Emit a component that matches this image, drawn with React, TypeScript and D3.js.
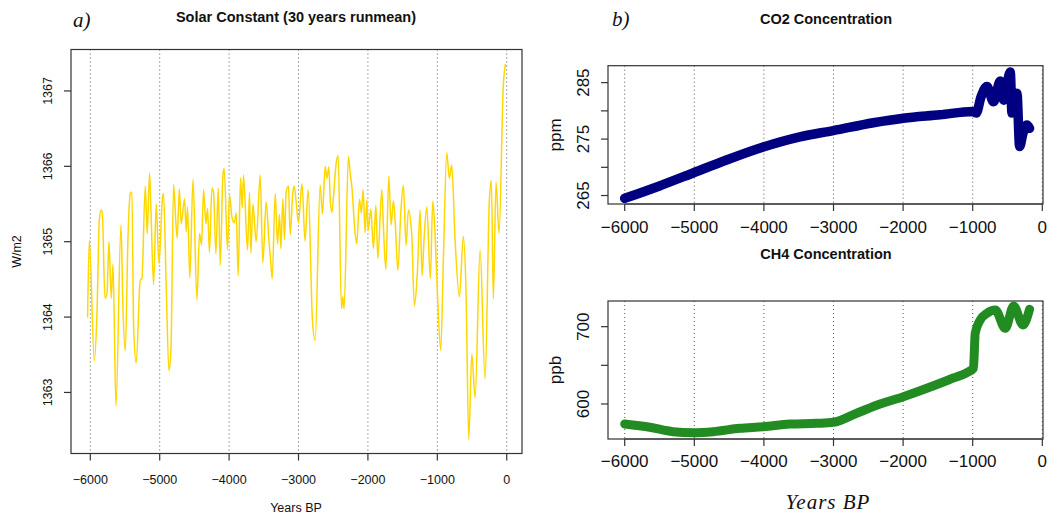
import React from 'react';
import * as d3 from 'd3';

// Solar constant, 30-year running mean (years BP, W/m2)
const solarYears = [
  -6039, -6014, -5942, -5904, -5870, -5846, -5827, -5789, -5760, -5731, -5698, -5673, -5630, -5558,
  -5530, -5496, -5457, -5424, -5400, -5376, -5338, -5280, -5256, -5208, -5180, -5146, -5126, -5088,
  -5050, -5011, -4959, -4945, -4906, -4867, -4838, -4800, -4766, -4747, -4718, -4690, -4642, -4618,
  -4599, -4566, -4520, -4464, -4426, -4397, -4368, -4334, -4311, -4283, -4248, -4225, -4190, -4157,
  -4128, -4089, -4071, -4023, -3994, -3960, -3927, -3898, -3869, -3836, -3811, -3793, -3735, -3706,
  -3686, -3657, -3610, -3552, -3514, -3466, -3427, -3404, -3379, -3336, -3303, -3274, -3254, -3225,
  -3202, -3178, -3145, -3120, -3082, -3063, -3034, -3001, -2950, -2906, -2861, -2799, -2760, -2688,
  -2655, -2616, -2592, -2563, -2544, -2520, -2497, -2458, -2429, -2381, -2362, -2343, -2281, -2256,
  -2232, -2184, -2160, -2122, -2094, -2069, -2040, -2016, -1997, -1958, -1921, -1886, -1857, -1800,
  -1777, -1742, -1699, -1666, -1633, -1608, -1569, -1526, -1489, -1450, -1417, -1369, -1331, -1287,
  -1248, -1220, -1191, -1152, -1100, -1066, -1033, -1000, -951, -913, -864, -827, -793, -744,
  -682, -625, -586, -547, -503, -456, -384, -312, -250, -221, -193, -154, -111, -49, -20,
];
const solarValues = [
  1364.0, 1365.02, 1363.42, 1364.05, 1365.28, 1365.42, 1365.38, 1364.25, 1364.31, 1365.0, 1364.25, 1364.7, 1362.82, 1365.22,
  1364.13, 1363.55, 1365.06, 1365.64, 1365.66, 1363.87, 1363.39, 1364.49, 1364.51, 1365.74, 1365.11, 1365.91, 1365.42, 1364.43,
  1365.5, 1364.71, 1365.59, 1365.64, 1364.4, 1363.29, 1363.56, 1365.76, 1365.24, 1365.05, 1365.7, 1365.24, 1365.57, 1365.13,
  1365.46, 1364.52, 1365.83, 1364.23, 1365.11, 1364.96, 1365.69, 1365.24, 1365.44, 1364.86, 1365.71, 1365.66, 1364.84, 1365.71,
  1364.69, 1365.88, 1365.97, 1364.9, 1365.62, 1365.33, 1365.25, 1365.38, 1364.55, 1365.85, 1365.45, 1365.88, 1364.89, 1365.65,
  1364.85, 1365.5, 1365.0, 1365.88, 1364.72, 1365.53, 1365.02, 1364.78, 1364.51, 1365.64, 1364.97, 1365.36, 1364.91, 1365.57,
  1365.03, 1365.66, 1365.74, 1365.09, 1365.65, 1365.74, 1365.53, 1365.25, 1365.77, 1365.01, 1365.69, 1363.95, 1363.69, 1365.75,
  1365.37, 1366.0, 1365.84, 1365.99, 1365.57, 1365.39, 1365.59, 1366.04, 1366.14, 1364.11, 1364.27, 1364.11, 1366.13, 1365.91,
  1365.73, 1365.11, 1364.97, 1365.56, 1365.38, 1365.69, 1365.12, 1365.55, 1365.15, 1365.43, 1364.91, 1365.48, 1364.78, 1365.69,
  1365.2, 1364.63, 1365.87, 1365.22, 1365.54, 1365.28, 1364.62, 1365.39, 1365.75, 1364.95, 1365.42, 1365.1, 1364.15, 1364.6,
  1365.42, 1364.55, 1365.04, 1365.46, 1364.51, 1365.54, 1365.11, 1364.35, 1363.56, 1364.75, 1366.18, 1365.84, 1366.02, 1365.02,
  1364.27, 1365.07, 1364.31, 1362.38, 1363.51, 1362.93, 1364.89, 1363.18, 1365.55, 1365.81, 1364.24, 1365.79, 1365.11, 1367.08, 1367.35,
];

// CO2 concentration (ppm)
const co2Years = [-6000, -5500, -5017, -4537, -4010, -3482, -3003, -2427, -1996, -1468, -1000, -950, -880, -796, -700, -604, -556, -460, -436, -364, -326, -278, -221, -183];
const co2Values = [264.5, 266.7, 269.0, 271.3, 273.6, 275.4, 276.5, 277.9, 278.7, 279.3, 279.9, 279.6, 282.5, 284.3, 281.6, 285.3, 281.9, 286.9, 279.6, 283.1, 273.7, 276.0, 277.5, 276.9];

// CH4 concentration (ppb)
const ch4Years = [-6000, -5640, -5305, -5017, -4729, -4345, -4010, -3626, -3242, -3003, -2667, -2331, -1996, -1659, -1324, -1084, -989, -964, -892, -796, -676, -532, -412, -278, -183];
const ch4Values = [574.1, 569.9, 564.2, 562.9, 564.2, 568.6, 570.6, 574.1, 575.0, 576.3, 588.0, 600.0, 609.4, 620.3, 632.0, 640.5, 646.2, 691.5, 708.7, 717.3, 721.6, 697.9, 726.8, 702.2, 722.5];

const yearTicks = [-6000, -5000, -4000, -3000, -2000, -1000, 0];
const solarTicks = [1363, 1364, 1365, 1366, 1367];
const co2Ticks = [265, 270, 275, 280, 285];
const co2Labels = [265, 275, 285];
const ch4Ticks = [600, 650, 700];
const ch4Labels = [600, 700];

const SANS = 'Liberation Sans, Arial, Helvetica, sans-serif';
const SERIF = 'Liberation Serif, DejaVu Serif, serif';
const fmt = (v: number) => (v < 0 ? '\u2212' + Math.abs(v) : String(v));

type PanelProps = {
  id: string;
  box: { x0: number; x1: number; y0: number; y1: number };
  x: d3.ScaleLinear<number, number>;
  y: d3.ScaleLinear<number, number>;
  xs: number[];
  ys: number[];
  yTicks: number[];
  yLabels: number[];
  color: string;
  width: number;
  font: number;
  ylab: string;
  ylabX: number;
  yTickX: number;
  xTickY: number;
  curve: d3.CurveFactory;
};

function Panel(p: PanelProps) {
  const { box, x, y } = p;
  const line = d3
    .line<number>()
    .x((_, i) => x(p.xs[i]))
    .y((d) => y(d))
    .curve(p.curve);
  return (
    <g>
      <clipPath id={p.id}>
        <rect x={box.x0} y={box.y0} width={box.x1 - box.x0} height={box.y1 - box.y0} />
      </clipPath>
      {yearTicks.map((t) => (
        <line key={'g' + t} x1={x(t)} x2={x(t)} y1={box.y0} y2={box.y1} stroke="#555" strokeWidth={1} strokeDasharray="1,3" />
      ))}
      <path
        d={line(p.ys) || ''}
        fill="none"
        stroke={p.color}
        strokeWidth={p.width}
        strokeLinejoin="round"
        strokeLinecap="round"
        clipPath={`url(#${p.id})`}
      />
      <rect x={box.x0} y={box.y0} width={box.x1 - box.x0} height={box.y1 - box.y0} fill="none" stroke="#333" strokeWidth={1.2} />
      {/* x axis */}
      <line x1={x(yearTicks[0])} x2={x(yearTicks[yearTicks.length - 1])} y1={box.y1} y2={box.y1} stroke="#333" />
      {yearTicks.map((t) => (
        <g key={'x' + t}>
          <line x1={x(t)} x2={x(t)} y1={box.y1} y2={box.y1 + 7} stroke="#333" strokeWidth={1.2} />
          <text x={x(t)} y={p.xTickY} textAnchor="middle" fontFamily={SANS} fontSize={p.font} fill="#111">
            {fmt(t)}
          </text>
        </g>
      ))}
      {/* y axis */}
      {p.yTicks.map((t) => (
        <line key={'y' + t} x1={box.x0 - 7} x2={box.x0} y1={y(t)} y2={y(t)} stroke="#333" strokeWidth={1.2} />
      ))}
      {p.yLabels.map((t) => (
        <text
          key={'yl' + t}
          transform={`translate(${p.yTickX},${y(t)}) rotate(-90)`}
          textAnchor="middle"
          fontFamily={SANS}
          fontSize={p.font}
          fill="#111"
        >
          {t}
        </text>
      ))}
      <text
        transform={`translate(${p.ylabX},${(box.y0 + box.y1) / 2}) rotate(-90)`}
        textAnchor="middle"
        fontFamily={SANS}
        fontSize={p.font}
        fill="#111"
      >
        {p.ylab}
      </text>
    </g>
  );
}

export default function App() {
  const leftBox = { x0: 71, x1: 522, y0: 49.5, y1: 453.5 };
  const topBox = { x0: 608, x1: 1043, y0: 65.7, y1: 204 };
  const botBox = { x0: 608, x1: 1043, y0: 301, y1: 439 };

  const xL = d3.scaleLinear().domain([-6278, 220]).range([leftBox.x0, leftBox.x1]);
  const yL = d3.scaleLinear().domain([1362.19, 1367.55]).range([leftBox.y1, leftBox.y0]);
  const xR = d3.scaleLinear().domain([-6240, 10]).range([topBox.x0, topBox.x1]);
  const yCO2 = d3.scaleLinear().domain([263.5, 288.0]).range([topBox.y1, topBox.y0]);
  const yCH4 = d3.scaleLinear().domain([554.7, 733.2]).range([botBox.y1, botBox.y0]);

  return (
    <svg width={1049} height={515} style={{ position: 'fixed', left: 0, top: 0, background: '#fff' }}>
      <rect width={1049} height={515} fill="#fff" />
      <Panel
        id="clipL"
        box={leftBox}
        x={xL}
        y={yL}
        xs={solarYears}
        ys={solarValues}
        yTicks={solarTicks}
        yLabels={solarTicks}
        color="#FFD700"
        width={1.5}
        font={12.5}
        ylab="W/m2"
        ylabX={21}
        yTickX={52}
        xTickY={484}
        curve={d3.curveMonotoneX}
      />
      <Panel
        id="clipT"
        box={topBox}
        x={xR}
        y={yCO2}
        xs={co2Years}
        ys={co2Values}
        yTicks={co2Ticks}
        yLabels={co2Labels}
        color="#000080"
        width={9.5}
        font={17}
        ylab="ppm"
        ylabX={561}
        yTickX={589}
        xTickY={233}
        curve={d3.curveMonotoneX}
      />
      <Panel
        id="clipB"
        box={botBox}
        x={xR}
        y={yCH4}
        xs={ch4Years}
        ys={ch4Values}
        yTicks={ch4Ticks}
        yLabels={ch4Labels}
        color="#228B22"
        width={9}
        font={17}
        ylab="ppb"
        ylabX={561}
        yTickX={589}
        xTickY={467}
        curve={d3.curveMonotoneX}
      />
      <text x={296} y={22} textAnchor="middle" fontFamily={SANS} fontWeight="bold" fontSize={14.5} fill="#111">
        Solar Constant (30 years runmean)
      </text>
      <text x={296} y={512} textAnchor="middle" fontFamily={SANS} fontSize={12.5} fill="#111">
        Years BP
      </text>
      <text x={826} y={24} textAnchor="middle" fontFamily={SANS} fontWeight="bold" fontSize={14.5} fill="#111">
        CO2 Concentration
      </text>
      <text x={826} y={259} textAnchor="middle" fontFamily={SANS} fontWeight="bold" fontSize={14.5} fill="#111">
        CH4 Concentration
      </text>
      <text x={73} y={27} fontFamily={SERIF} fontStyle="italic" fontSize={21} fill="#111">
        a)
      </text>
      <text x={612} y={26} fontFamily={SERIF} fontStyle="italic" fontSize={21} fill="#111">
        b)
      </text>
      <text x={828} y={509} textAnchor="middle" fontFamily={SERIF} fontStyle="italic" fontSize={21} letterSpacing={1} fill="#111">
        Years BP
      </text>
    </svg>
  );
}
